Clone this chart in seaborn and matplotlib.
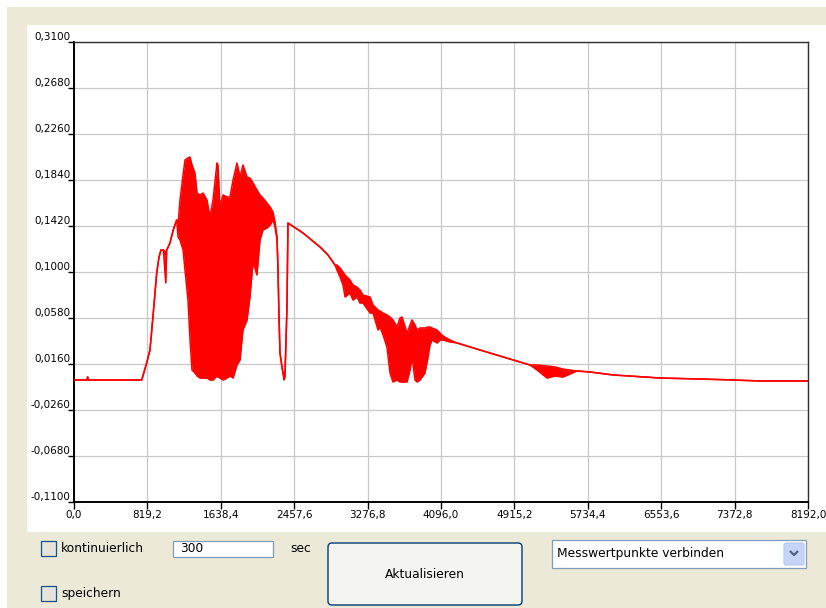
import numpy as np
import pandas as pd
import matplotlib
matplotlib.use("Agg")
import matplotlib.pyplot as plt
import seaborn as sns
from matplotlib.patches import Rectangle, FancyBboxPatch

# Measured signal: time (s) with upper / lower envelope of the trace (V)
t = [0, 140, 153, 165, 756, 811, 848, 885, 923, 949, 971, 997, 1024, 1035,
     1071, 1108, 1146, 1161, 1183, 1217, 1239, 1272, 1295, 1317, 1350, 1373,
     1406, 1440, 1484, 1518, 1551, 1596, 1607, 1629, 1663, 1708, 1741, 1775,
     1819, 1853, 1886, 1931, 1964, 1998, 2042, 2076, 2109, 2154, 2188, 2221,
     2243, 2266, 2277, 2288, 2299, 2321, 2344, 2355, 2377, 2388, 2556, 2746,
     2835, 2913, 2935, 2969, 3002, 3025, 3080, 3114, 3158, 3192, 3225, 3304,
     3337, 3393, 3415, 3449, 3493, 3527, 3560, 3605, 3638, 3661, 3717, 3750,
     3772, 3806, 3828, 3862, 3917, 3951, 3973, 3996, 4051, 4085, 4118, 4197,
     4275, 4531, 4900, 5089, 5168, 5279, 5368, 5458, 5536, 5614, 5759, 6016,
     6205, 6540, 6987, 7355, 7656, 8192]

upper = [0.0014, 0.0014, 0.0044, 0.0014, 0.0014, 0.0169, 0.0288, 0.0626, 0.0991,
         0.1137, 0.1201, 0.1201, 0.1183, 0.1201, 0.1265, 0.1384, 0.1475, 0.1429,
         0.1657, 0.1886, 0.2023, 0.2041, 0.2050, 0.1977, 0.1904, 0.1721, 0.1703,
         0.1721, 0.1657, 0.1502, 0.1657, 0.1995, 0.1977, 0.1594, 0.1703, 0.1685,
         0.1685, 0.1840, 0.1995, 0.1867, 0.1977, 0.1867, 0.1858, 0.1813, 0.1749,
         0.1703, 0.1676, 0.1630, 0.1594, 0.1548, 0.1457, 0.1320, 0.1018, 0.0589,
         0.0261, 0.0133, 0.0041, 0.0087, 0.0681, 0.1447, 0.1356, 0.1228, 0.1155,
         0.1064, 0.1064, 0.1037, 0.1000, 0.0973, 0.0927, 0.0881, 0.0863, 0.0836,
         0.0790, 0.0772, 0.0699, 0.0653, 0.0644, 0.0626, 0.0608, 0.0589, 0.0562,
         0.0498, 0.0580, 0.0589, 0.0443, 0.0516, 0.0562, 0.0516, 0.0471, 0.0489,
         0.0489, 0.0498, 0.0498, 0.0489, 0.0471, 0.0443, 0.0416, 0.0379, 0.0352,
         0.0288, 0.0197, 0.0151, 0.0151, 0.0142, 0.0133, 0.0114, 0.0105, 0.0096,
         0.0087, 0.0060, 0.0050, 0.0032, 0.0023, 0.0014, 0.0005, 0.0005]

lower = [0.0014, 0.0014, 0.0014, 0.0014, 0.0014, 0.0169, 0.0288, 0.0626, 0.0991,
         0.1137, 0.1201, 0.1201, 0.0900, 0.1201, 0.1265, 0.1384, 0.1475, 0.1320,
         0.1292, 0.1201, 0.1018, 0.0744, 0.0379, 0.0105, 0.0078, 0.0050, 0.0032,
         0.0032, 0.0032, 0.0014, 0.0014, 0.0050, 0.0041, 0.0032, 0.0014, 0.0032,
         0.0050, 0.0032, 0.0151, 0.0197, 0.0471, 0.0562, 0.0772, 0.1091, 0.0973,
         0.1292, 0.1384, 0.1402, 0.1429, 0.1475, 0.1411, 0.1292, 0.1018, 0.0589,
         0.0261, 0.0133, 0.0014, 0.0041, 0.0681, 0.1447, 0.1356, 0.1228, 0.1155,
         0.1064, 0.1018, 0.0954, 0.0881, 0.0772, 0.0808, 0.0744, 0.0772, 0.0717,
         0.0717, 0.0626, 0.0626, 0.0471, 0.0498, 0.0425, 0.0315, 0.0078, -0.0004,
         0.0014, -0.0004, -0.0004, -0.0004, 0.0105, 0.0224, 0.0014, -0.0004, 0.0014,
         0.0078, 0.0224, 0.0334, 0.0379, 0.0352, 0.0379, 0.0379, 0.0361, 0.0352,
         0.0288, 0.0197, 0.0151, 0.0105, 0.0032, 0.0050, 0.0041, 0.0069, 0.0096,
         0.0087, 0.0060, 0.0050, 0.0032, 0.0023, 0.0014, 0.0005, 0.0005]

x_ticks = [0.0, 819.2, 1638.4, 2457.6, 3276.8, 4096.0, 4915.2, 5734.4, 6553.6, 7372.8, 8192.0]
y_ticks = [-0.11, -0.068, -0.026, 0.016, 0.058, 0.100, 0.142, 0.184, 0.226, 0.268, 0.310]

df = pd.DataFrame({"t": t, "upper": upper, "lower": lower})

W, H = 826, 608
plt.rcParams["font.family"] = ["DejaVu Sans"]
fig = plt.figure(figsize=(W / 100, H / 100), dpi=100)
fig.patch.set_facecolor("#ECE9D8")

# background layer in pixel coordinates (window widgets)
bg = fig.add_axes([0, 0, 1, 1], zorder=0)
bg.set_xlim(0, W)
bg.set_ylim(H, 0)
bg.axis("off")
bg.add_patch(Rectangle((0, 0), W, 7, color="white", lw=0))
bg.add_patch(Rectangle((0, 0), 7, H, color="white", lw=0))
bg.add_patch(Rectangle((27, 25), W - 27, 507, color="white", lw=0))

fs = 8.8
# checkboxes
for y0, label in [(541, "kontinuierlich"), (586, "speichern")]:
    bg.add_patch(Rectangle((41, y0), 15, 15, facecolor="#E4E3DC", edgecolor="#1C5180", lw=0.9))
    bg.text(61, y0 + 8, label, fontsize=fs, va="center", ha="left", color="black")

# text box
bg.add_patch(Rectangle((173, 541), 100, 16, facecolor="white", edgecolor="#7F9DB9", lw=0.9))
bg.text(180, 549, "300", fontsize=fs, va="center", ha="left")
bg.text(290, 549, "sec", fontsize=fs, va="center", ha="left")

# button
bg.add_patch(FancyBboxPatch((328, 543), 194, 62, boxstyle="round,pad=0,rounding_size=4",
                            facecolor="#F4F4F0", edgecolor="#003C74", lw=1.0))
bg.text(425, 575, "Aktualisieren", fontsize=fs, va="center", ha="center")

# combobox
bg.add_patch(Rectangle((552, 540), 254, 28, facecolor="white", edgecolor="#7F9DB9", lw=0.9))
bg.text(557, 554, "Messwertpunkte verbinden", fontsize=fs, va="center", ha="left")
bg.add_patch(FancyBboxPatch((784, 543), 20, 22, boxstyle="round,pad=0,rounding_size=2",
                            facecolor="#C6D5F7", edgecolor="#B4C8F0", lw=0.8))
bg.plot([790, 794, 798], [551, 555, 551], color="#4D6185", lw=1.6, solid_capstyle="butt")

# plot area
ax = fig.add_axes([74 / W, 1 - 502 / H, 734 / W, 460 / H], zorder=1)
ax.set_facecolor("white")
ax.fill_between(df["t"], df["lower"], df["upper"], color="#FF0000", lw=0, zorder=3)
sns.lineplot(data=df, x="t", y="upper", ax=ax, color="#FF0000", lw=1.1,
             estimator=None, sort=False, zorder=4)
sns.lineplot(data=df, x="t", y="lower", ax=ax, color="#FF0000", lw=1.1,
             estimator=None, sort=False, zorder=4)

ax.set_xlim(0, 8192)
ax.set_ylim(-0.11, 0.31)
ax.set_xticks(x_ticks)
ax.set_xticklabels([f"{v:.1f}".replace(".", ",") for v in x_ticks])
ax.set_yticks(y_ticks)
ax.set_yticklabels([f"{v:.4f}".replace(".", ",") for v in y_ticks])
ax.set_xlabel("")
ax.set_ylabel("")
ax.grid(True, color="#C8C8C8", lw=0.9)
ax.set_axisbelow(True)
ax.tick_params(axis="x", length=5, width=1.0, pad=1, labelsize=7.5, colors="black")
ax.tick_params(axis="y", length=4.5, width=1.0, pad=-2, labelsize=7.5, colors="black")
for lab in ax.get_yticklabels():
    lab.set_verticalalignment("bottom")
for side in ["left", "bottom"]:
    ax.spines[side].set_linewidth(1.4)
    ax.spines[side].set_color("black")
for side in ["top", "right"]:
    ax.spines[side].set_linewidth(1.0)
    ax.spines[side].set_color("#303030")

fig.savefig("out.png", dpi=100, facecolor=fig.get_facecolor())
